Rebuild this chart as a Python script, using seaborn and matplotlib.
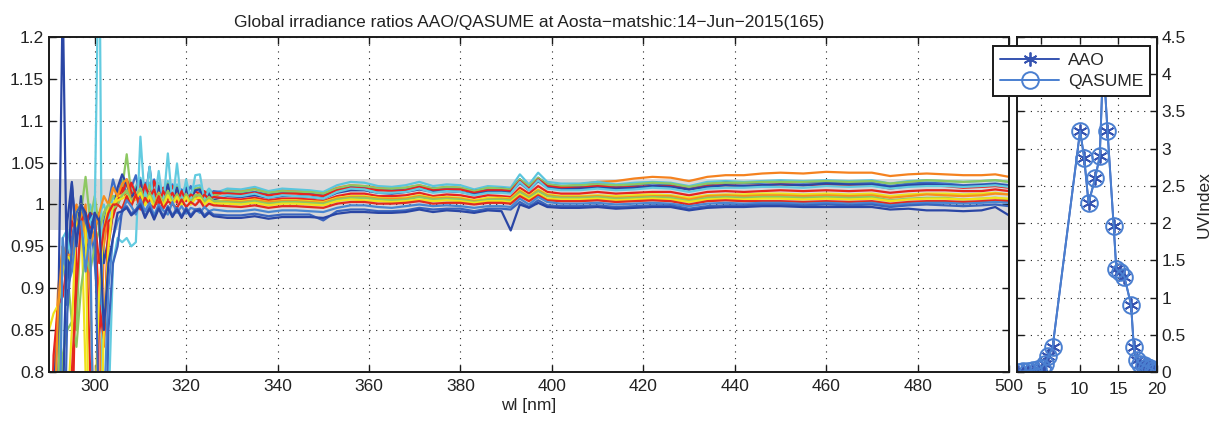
import matplotlib
matplotlib.use("Agg")
import matplotlib.pyplot as plt
import seaborn as sns
import pandas as pd
from matplotlib.ticker import FixedLocator, FuncFormatter

# ---------------- data ----------------
wl = ([290, 291, 292, 293, 294, 295, 296, 297, 298, 299, 300, 301, 302, 303, 304, 305,
       306, 307, 308, 309, 310, 311, 312, 313, 314, 315, 316, 317, 318, 319, 320, 321,
       322, 323, 324, 325, 326]
      + [329, 332, 335, 338, 341, 344, 347, 350, 353, 356, 359, 362, 365, 368, 371, 374,
         377, 380, 383, 386, 389, 391, 393, 395, 397, 399, 402]
      + [406, 410, 414, 418, 422, 426, 430, 434, 438, 442, 446, 450, 455, 460, 465, 470,
         474, 478, 482, 486, 490, 494, 497, 500])

r01 = [0.60, 0.78, 0.90, 0.95, 0.94, 0.98, 1.00, 0.97, 1.00, 0.90, 0.70, 0.75, 0.95, 0.99, 1.02, 1.015,
       1.018, 1.024, 1.010, 1.018, 1.028, 1.006, 1.022, 1.004, 1.022, 1.006, 1.024, 1.007, 1.020, 1.006, 1.020, 1.008, 1.018, 1.019, 1.008, 1.015, 1.009,
       1.017, 1.017, 1.019, 1.015, 1.017, 1.016, 1.016, 1.014, 1.020, 1.023, 1.022, 1.020, 1.019, 1.020, 1.023, 1.019, 1.021, 1.020, 1.016, 1.019, 1.018, 1.017, 1.030, 1.021, 1.031, 1.023, 1.021,
       1.024, 1.027, 1.028, 1.031, 1.033, 1.032, 1.028, 1.033, 1.035, 1.035, 1.037, 1.038, 1.037, 1.039, 1.038, 1.038, 1.034, 1.036, 1.037, 1.036, 1.035, 1.035, 1.036, 1.033]
r02 = [0.50, 0.50, 0.75, 0.96, 0.97, 0.93, 0.98, 0.99, 0.96, 1.00, 0.98, 0.99, 1.00, 0.98, 1.01, 1.00,
       1.022, 1.028, 1.014, 1.022, 1.032, 1.010, 1.026, 1.008, 1.026, 1.010, 1.028, 1.011, 1.024, 1.010, 1.024, 1.012, 1.022, 1.023, 1.012, 1.019, 1.013,
       1.019, 1.018, 1.021, 1.016, 1.019, 1.018, 1.017, 1.015, 1.023, 1.027, 1.026, 1.022, 1.021, 1.023, 1.027, 1.022, 1.024, 1.023, 1.018, 1.022, 1.021, 1.020, 1.036, 1.024, 1.038, 1.027, 1.025,
       1.025, 1.027, 1.024, 1.026, 1.027, 1.026, 1.022, 1.027, 1.028, 1.027, 1.028, 1.029, 1.028, 1.029, 1.028, 1.029, 1.025, 1.028, 1.029, 1.028, 1.027, 1.028, 1.029, 1.027]
r03 = [0.50, 0.60, 0.80, 0.95, 0.88, 0.96, 0.99, 1.00, 0.97, 0.99, 0.93, 0.86, 0.98, 1.00, 1.03, 1.01,
       1.030, 1.012, 1.020, 1.035, 1.008, 1.026, 1.010, 1.030, 1.004, 1.020, 1.012, 1.024, 1.006, 1.018, 1.010, 1.022, 1.008, 1.016, 1.014, 1.010, 1.016,
       1.014, 1.013, 1.015, 1.012, 1.014, 1.014, 1.013, 1.011, 1.018, 1.021, 1.021, 1.018, 1.017, 1.019, 1.022, 1.019, 1.020, 1.019, 1.016, 1.019, 1.019, 1.018, 1.030, 1.021, 1.032, 1.024, 1.022,
       1.022, 1.024, 1.022, 1.023, 1.025, 1.024, 1.020, 1.024, 1.026, 1.025, 1.026, 1.027, 1.026, 1.027, 1.026, 1.026, 1.022, 1.025, 1.026, 1.025, 1.023, 1.024, 1.025, 1.023]
r04 = [0.50, 0.60, 0.78, 0.94, 0.92, 0.86, 0.85, 0.99, 1.033, 0.98, 1.01, 0.97, 0.99, 1.00, 1.01, 1.01,
       1.019, 1.060, 1.012, 1.019, 1.028, 1.009, 1.023, 1.007, 1.023, 1.009, 1.025, 1.010, 1.021, 1.009, 1.021, 1.010, 1.019, 1.020, 1.010, 1.017, 1.011,
       1.016, 1.015, 1.018, 1.014, 1.016, 1.015, 1.015, 1.013, 1.019, 1.023, 1.022, 1.019, 1.019, 1.020, 1.023, 1.019, 1.021, 1.020, 1.016, 1.020, 1.019, 1.018, 1.030, 1.022, 1.032, 1.024, 1.022,
       1.023, 1.024, 1.023, 1.024, 1.026, 1.025, 1.021, 1.025, 1.026, 1.026, 1.027, 1.027, 1.027, 1.028, 1.027, 1.028, 1.025, 1.027, 1.029, 1.028, 1.027, 1.028, 1.029, 1.027]
r05 = [0.60, 0.82, 0.88, 0.89, 0.93, 0.98, 0.965, 1.00, 0.98, 0.99, 0.985, 0.87, 0.83, 0.95, 0.99, 1.00,
       1.012, 1.030, 1.015, 1.006, 1.025, 1.018, 1.004, 1.028, 1.010, 1.020, 1.006, 1.022, 1.012, 1.008, 1.019, 1.006, 1.016, 1.012, 1.016, 1.010, 1.014,
       1.013, 1.012, 1.014, 1.011, 1.013, 1.013, 1.012, 1.010, 1.017, 1.020, 1.019, 1.017, 1.016, 1.017, 1.021, 1.017, 1.018, 1.018, 1.014, 1.017, 1.017, 1.016, 1.028, 1.019, 1.030, 1.022, 1.020,
       1.020, 1.022, 1.020, 1.021, 1.022, 1.022, 1.018, 1.022, 1.023, 1.022, 1.023, 1.024, 1.023, 1.024, 1.023, 1.023, 1.019, 1.022, 1.023, 1.022, 1.020, 1.021, 1.022, 1.020]
r06 = [0.70, 0.78, 0.85, 1.25, 0.88, 1.025, 0.96, 1.01, 0.93, 0.99, 0.97, 0.99, 0.93, 0.96, 0.99, 1.02,
       1.036, 1.024, 1.008, 1.017, 1.029, 1.003, 1.045, 1.000, 1.022, 1.003, 1.024, 1.004, 1.020, 1.003, 1.020, 1.005, 1.017, 1.018, 1.005, 1.014, 1.006,
       1.010, 1.009, 1.011, 1.008, 1.010, 1.010, 1.009, 1.007, 1.014, 1.017, 1.017, 1.014, 1.013, 1.015, 1.018, 1.015, 1.016, 1.015, 1.012, 1.015, 1.015, 1.014, 1.026, 1.017, 1.028, 1.020, 1.018,
       1.019, 1.020, 1.019, 1.020, 1.022, 1.021, 1.018, 1.021, 1.023, 1.022, 1.023, 1.024, 1.023, 1.025, 1.024, 1.024, 1.021, 1.023, 1.024, 1.023, 1.022, 1.023, 1.024, 1.022]
r07 = [0.50, 0.50, 0.60, 0.78, 0.96, 0.93, 0.97, 0.99, 0.95, 0.98, 0.99, 1.35, 0.55, 0.75, 0.93, 0.96,
       0.955, 0.960, 0.950, 0.955, 1.081, 1.000, 1.045, 0.998, 1.040, 1.000, 1.061, 1.000, 1.049, 1.000, 1.030, 1.005, 1.035, 1.036, 1.005, 1.018, 1.008,
       1.011, 1.010, 1.013, 1.008, 1.011, 1.010, 1.009, 1.007, 1.015, 1.019, 1.018, 1.014, 1.014, 1.015, 1.019, 1.014, 1.016, 1.015, 1.011, 1.014, 1.014, 1.013, 1.027, 1.017, 1.029, 1.019, 1.017,
       1.017, 1.019, 1.017, 1.018, 1.020, 1.019, 1.015, 1.019, 1.020, 1.020, 1.021, 1.021, 1.020, 1.022, 1.021, 1.022, 1.019, 1.021, 1.022, 1.022, 1.021, 1.022, 1.023, 1.021]
r08 = [0.50, 0.60, 0.70, 0.75, 0.60, 0.70, 0.96, 0.99, 0.98, 0.80, 0.60, 0.88, 0.84, 0.98, 0.985, 1.005,
       1.020, 1.006, 1.026, 1.012, 1.004, 1.024, 1.008, 1.018, 1.000, 1.016, 1.006, 1.014, 1.002, 1.016, 1.004, 1.012, 1.009, 1.004, 1.012, 1.006, 1.009,
       1.007, 1.006, 1.008, 1.005, 1.007, 1.007, 1.006, 1.004, 1.010, 1.013, 1.013, 1.010, 1.010, 1.011, 1.014, 1.010, 1.012, 1.011, 1.008, 1.011, 1.010, 1.009, 1.020, 1.013, 1.022, 1.015, 1.013,
       1.013, 1.015, 1.013, 1.014, 1.015, 1.015, 1.011, 1.015, 1.016, 1.015, 1.016, 1.017, 1.016, 1.017, 1.016, 1.017, 1.014, 1.016, 1.017, 1.017, 1.016, 1.016, 1.018, 1.016]
r09 = [0.85, 0.87, 0.88, 0.92, 0.94, 0.93, 0.99, 1.00, 0.80, 0.70, 0.75, 0.90, 0.97, 1.00, 1.00, 1.01,
       1.011, 1.016, 1.004, 1.011, 1.019, 1.001, 1.014, 1.000, 1.014, 1.001, 1.016, 1.002, 1.012, 1.001, 1.012, 1.003, 1.011, 1.012, 1.003, 1.008, 1.004,
       1.005, 1.004, 1.006, 1.003, 1.005, 1.005, 1.004, 1.003, 1.008, 1.010, 1.010, 1.008, 1.007, 1.008, 1.011, 1.008, 1.009, 1.008, 1.005, 1.008, 1.008, 1.007, 1.017, 1.010, 1.018, 1.012, 1.010,
       1.010, 1.011, 1.010, 1.011, 1.012, 1.011, 1.008, 1.011, 1.012, 1.012, 1.013, 1.013, 1.012, 1.013, 1.012, 1.013, 1.010, 1.012, 1.013, 1.013, 1.012, 1.013, 1.014, 1.012]
r10 = [0.60, 0.70, 0.88, 0.95, 0.94, 0.94, 0.97, 0.99, 0.96, 0.95, 0.97, 0.99, 1.01, 1.00, 1.02, 1.01,
       1.025, 1.030, 1.003, 1.010, 1.018, 1.000, 1.013, 0.999, 1.013, 1.000, 1.015, 1.001, 1.011, 1.000, 1.011, 1.002, 1.010, 1.011, 1.002, 1.007, 1.003,
       1.004, 1.003, 1.005, 1.003, 1.004, 1.004, 1.003, 1.002, 1.007, 1.009, 1.009, 1.007, 1.007, 1.007, 1.010, 1.007, 1.008, 1.007, 1.004, 1.006, 1.007, 1.006, 1.016, 1.009, 1.017, 1.011, 1.009,
       1.009, 1.010, 1.008, 1.009, 1.010, 1.010, 1.006, 1.010, 1.011, 1.010, 1.011, 1.011, 1.010, 1.011, 1.010, 1.011, 1.008, 1.010, 1.012, 1.011, 1.010, 1.011, 1.013, 1.012]
r11 = [0.50, 0.55, 0.70, 0.82, 0.85, 0.86, 0.83, 0.90, 0.94, 0.92, 0.95, 0.97, 0.99, 1.00, 0.995, 1.00,
       1.011, 1.017, 1.004, 1.010, 1.019, 1.002, 1.014, 1.000, 1.013, 1.002, 1.016, 1.001, 1.012, 1.002, 1.012, 1.003, 1.011, 1.011, 1.003, 1.009, 1.004,
       1.003, 1.002, 1.004, 1.001, 1.003, 1.003, 1.002, 1.001, 1.006, 1.008, 1.008, 1.006, 1.005, 1.006, 1.009, 1.006, 1.007, 1.006, 1.003, 1.006, 1.006, 1.005, 1.015, 1.008, 1.016, 1.010, 1.008,
       1.008, 1.009, 1.007, 1.008, 1.009, 1.008, 1.004, 1.008, 1.009, 1.008, 1.009, 1.009, 1.008, 1.009, 1.008, 1.009, 1.005, 1.007, 1.008, 1.008, 1.006, 1.007, 1.008, 1.006]
r12 = [0.50, 0.50, 0.60, 0.70, 0.75, 0.85, 0.99, 1.00, 0.98, 0.60, 0.50, 0.65, 0.85, 0.95, 1.00, 1.005,
       1.007, 1.011, 1.002, 1.007, 1.014, 0.999, 1.010, 0.997, 1.010, 0.999, 1.011, 1.000, 1.009, 0.999, 1.009, 1.000, 1.007, 1.008, 1.000, 1.005, 1.001,
       1.001, 1.000, 1.002, 0.999, 1.001, 1.001, 1.000, 0.999, 1.004, 1.006, 1.005, 1.004, 1.003, 1.004, 1.006, 1.004, 1.005, 1.004, 1.002, 1.004, 1.004, 1.003, 1.012, 1.006, 1.013, 1.007, 1.006,
       1.006, 1.007, 1.005, 1.006, 1.007, 1.006, 1.003, 1.006, 1.007, 1.006, 1.007, 1.007, 1.006, 1.007, 1.006, 1.007, 1.004, 1.006, 1.007, 1.007, 1.006, 1.007, 1.008, 1.007]
r13 = [0.50, 0.50, 0.55, 0.60, 0.70, 0.80, 0.90, 0.98, 0.99, 0.97, 0.98, 0.93, 0.97, 0.99, 1.00, 1.00,
       0.995, 1.010, 0.998, 1.012, 0.994, 1.008, 1.000, 0.996, 1.010, 0.995, 1.004, 1.000, 0.996, 1.006, 0.997, 1.003, 0.999, 1.005, 0.996, 1.001, 0.999,
       0.998, 0.997, 0.999, 0.996, 0.998, 0.998, 0.997, 0.996, 1.001, 1.003, 1.003, 1.001, 1.001, 1.002, 1.004, 1.001, 1.002, 1.002, 1.000, 1.002, 1.002, 1.001, 1.010, 1.004, 1.011, 1.005, 1.004,
       1.004, 1.005, 1.003, 1.004, 1.005, 1.004, 1.000, 1.004, 1.005, 1.004, 1.004, 1.004, 1.003, 1.004, 1.003, 1.004, 1.001, 1.003, 1.004, 1.004, 1.003, 1.004, 1.005, 1.004]
r14 = [0.50, 0.55, 0.60, 0.96, 0.90, 0.92, 0.97, 0.98, 0.92, 0.97, 0.60, 0.55, 0.75, 0.90, 0.96, 0.98,
       0.990, 1.005, 0.998, 0.988, 1.006, 0.992, 1.002, 0.987, 1.000, 0.993, 0.988, 1.003, 0.990, 0.998, 0.989, 0.996, 0.994, 0.990, 0.997, 0.992, 0.994,
       0.992, 0.992, 0.994, 0.991, 0.993, 0.993, 0.992, 0.991, 0.996, 0.999, 0.999, 0.997, 0.996, 0.998, 1.000, 0.998, 0.999, 0.998, 0.996, 0.998, 0.998, 0.997, 1.007, 1.000, 1.009, 1.003, 1.001,
       1.001, 1.002, 1.000, 1.001, 1.002, 1.001, 0.998, 1.001, 1.002, 1.001, 1.002, 1.002, 1.001, 1.002, 1.001, 1.002, 0.999, 1.001, 1.002, 1.002, 1.001, 1.002, 1.003, 1.002]
r15 = [0.50, 0.50, 0.55, 0.60, 0.87, 0.95, 0.99, 1.00, 0.98, 0.96, 0.99, 0.70, 0.60, 0.85, 0.93, 0.95,
       0.994, 0.998, 0.989, 0.994, 1.001, 0.986, 0.997, 0.984, 0.997, 0.986, 0.998, 0.987, 0.996, 0.986, 0.996, 0.987, 0.994, 0.995, 0.987, 0.992, 0.988,
       0.987, 0.987, 0.989, 0.986, 0.988, 0.988, 0.988, 0.981, 0.992, 0.994, 0.994, 0.992, 0.992, 0.993, 0.996, 0.994, 0.995, 0.995, 0.992, 0.995, 0.995, 0.994, 1.003, 0.997, 1.005, 0.999, 0.998,
       0.998, 0.999, 0.997, 0.998, 0.999, 0.999, 0.995, 0.998, 0.999, 0.999, 1.000, 1.000, 0.999, 1.000, 0.999, 1.000, 0.997, 0.999, 1.000, 0.999, 0.998, 0.999, 1.000, 0.998]
r16 = [0.50, 0.50, 0.60, 0.75, 0.98, 1.027, 0.95, 1.00, 0.99, 0.96, 0.99, 0.98, 0.85, 0.93, 0.96, 0.99,
       0.992, 0.996, 0.987, 0.992, 0.999, 0.984, 0.995, 0.982, 0.995, 0.984, 0.996, 0.985, 0.994, 0.984, 0.994, 0.985, 0.992, 0.993, 0.985, 0.990, 0.986,
       0.984, 0.984, 0.986, 0.983, 0.985, 0.985, 0.985, 0.984, 0.989, 0.991, 0.991, 0.990, 0.990, 0.991, 0.994, 0.991, 0.993, 0.992, 0.990, 0.993, 0.992, 0.969, 1.000, 0.996, 1.002, 0.997, 0.996,
       0.996, 0.997, 0.995, 0.996, 0.997, 0.997, 0.993, 0.996, 0.997, 0.997, 0.998, 0.998, 0.997, 0.997, 0.997, 0.997, 0.994, 0.995, 0.993, 0.993, 0.992, 0.993, 0.997, 0.987]

runs = [r01, r02, r03, r04, r05, r06, r07, r08, r09, r10, r11, r12, r13, r14, r15, r16]
run_colors = ['#f5821f', '#5ac5dd', '#3c6cc5', '#8dc862', '#e8231f', '#2a46a5', '#63cbe0', '#e8231f',
              '#efe31c', '#f7901e', '#8dc862', '#efe31c', '#e42a1e', '#4a86d0', '#3a64bd', '#2a46a5']

# UV index time series
uv_time = [2.05, 2.7, 3.35, 4.0, 4.65, 5.1, 5.5, 5.95, 6.5, 10.06, 10.58, 11.15, 12.0, 12.6, 13.05,
           13.6, 14.4, 14.74, 15.26, 15.78, 16.65, 17.0, 17.4, 17.8, 18.3, 18.7, 19.1, 19.5, 19.7]
uv_aao = [0.0, 0.01, 0.02, 0.03, 0.04, 0.06, 0.11, 0.21, 0.33, 3.24, 2.88, 2.27, 2.60, 2.90, 4.2,
          3.24, 1.96, 1.38, 1.34, 1.28, 0.90, 0.34, 0.16, 0.11, 0.09, 0.07, 0.05, 0.03, 0.0]
uv_qasume = [0.0, 0.01, 0.02, 0.03, 0.04, 0.06, 0.11, 0.21, 0.33, 3.24, 2.88, 2.27, 2.60, 2.90, 4.2,
             3.24, 1.96, 1.38, 1.34, 1.28, 0.90, 0.34, 0.16, 0.11, 0.09, 0.07, 0.05, 0.03, 0.0]

title = "Global irradiance ratios AAO/QASUME at Aosta\u2212matshic:14\u2212Jun\u22122015(165)"

# ---------------- style ----------------
sns.set_theme(style="white")
plt.rcParams['font.family'] = ['Liberation Sans', 'DejaVu Sans']
plt.rcParams['axes.unicode_minus'] = True

W, H = 1224, 423
fig = plt.figure(figsize=(W / 100, H / 100), dpi=100)

def fx(px):
    return px / W

def fy(py):
    return 1 - py / H

ax1 = fig.add_axes([fx(49), fy(372), fx(1009) - fx(49), fy(37) - fy(372)])
ax2 = fig.add_axes([fx(1017), fy(372), fx(1157) - fx(1017), fy(37) - fy(372)])

FS = 12.5

# main panel
rows = []
for i, r in enumerate(runs):
    for w, v in zip(wl, r):
        rows.append((w, v, i))
df = pd.DataFrame(rows, columns=['wl', 'ratio', 'run'])

ax1.axhspan(0.97, 1.03, color='#d9d9da', lw=0, zorder=0.3)
sns.lineplot(data=df, x='wl', y='ratio', hue='run', palette=run_colors, estimator=None,
             sort=False, legend=False, lw=1.6, ax=ax1, zorder=2)

ax1.set_xlim(290, 500)
ax1.set_ylim(0.8, 1.2)
ax1.xaxis.set_major_locator(FixedLocator(list(range(300, 501, 20))))
yt = [0.8, 0.85, 0.9, 0.95, 1.0, 1.05, 1.1, 1.15, 1.2]
ax1.yaxis.set_major_locator(FixedLocator(yt))
ax1.yaxis.set_major_formatter(FuncFormatter(lambda v, p: f"{v:g}"))
ax1.set_xlabel("wl [nm]", fontsize=FS, labelpad=3)
ax1.set_ylabel("")
ax1.set_title(title, fontsize=FS, pad=7, color='#222222')
ax1.set_axisbelow(True)
ax1.grid(True, color='#222222', linestyle=(0, (1, 5)), linewidth=0.8)

for ax in (ax1, ax2):
    for s in ax.spines.values():
        s.set_color('#1a1a1a')
        s.set_linewidth(1.4)
    ax.tick_params(direction='in', length=5, width=1.0, top=True, right=True,
                   bottom=True, left=True, labelsize=FS, colors='#1a1a1a',
                   labelcolor='#222222')
    ax.tick_params(axis='x', pad=5)

# right panel
sns.lineplot(x=uv_time, y=uv_aao, ax=ax2, color='#3553b0', lw=1.4, marker=(6, 2, 0),
             markersize=10, markeredgecolor='#3553b0', markeredgewidth=1.3,
             estimator=None, sort=False, label='AAO')
sns.lineplot(x=uv_time, y=uv_qasume, ax=ax2, color='#4a7fd0', lw=1.4, marker='o',
             markersize=12, markerfacecolor='none', markeredgecolor='#4a7fd0',
             markeredgewidth=1.4, estimator=None, sort=False, label='QASUME')
ax2.set_xlim(1.9, 20)
ax2.set_ylim(0, 4.5)
ax2.xaxis.set_major_locator(FixedLocator([5, 10, 15, 20]))
ax2.yaxis.set_major_locator(FixedLocator([0, 0.5, 1, 1.5, 2, 2.5, 3, 3.5, 4, 4.5]))
ax2.yaxis.set_major_formatter(FuncFormatter(lambda v, p: f"{v:g}"))
ax2.tick_params(axis='y', labelleft=False, labelright=True, pad=3)
ax2.tick_params(axis='x', pad=7)
ax2.yaxis.set_label_position('right')
ax2.set_ylabel("UVIndex", fontsize=FS, labelpad=8)
ax2.set_xlabel("")
ax2.set_axisbelow(True)
ax2.grid(True, color='#222222', linestyle=(0, (1, 5)), linewidth=0.8)

leg = ax2.legend(loc='upper right', bbox_to_anchor=(fx(1150), fy(46)),
                 bbox_transform=fig.transFigure, fontsize=12.5, frameon=True,
                 fancybox=False, framealpha=1, edgecolor='#1a1a1a',
                 handlelength=3.4, borderpad=0.4, labelspacing=0.35,
                 handletextpad=0.5, borderaxespad=0)
leg.get_frame().set_linewidth(1.4)
leg.set_zorder(10)

fig.savefig("out.png", dpi=100)
